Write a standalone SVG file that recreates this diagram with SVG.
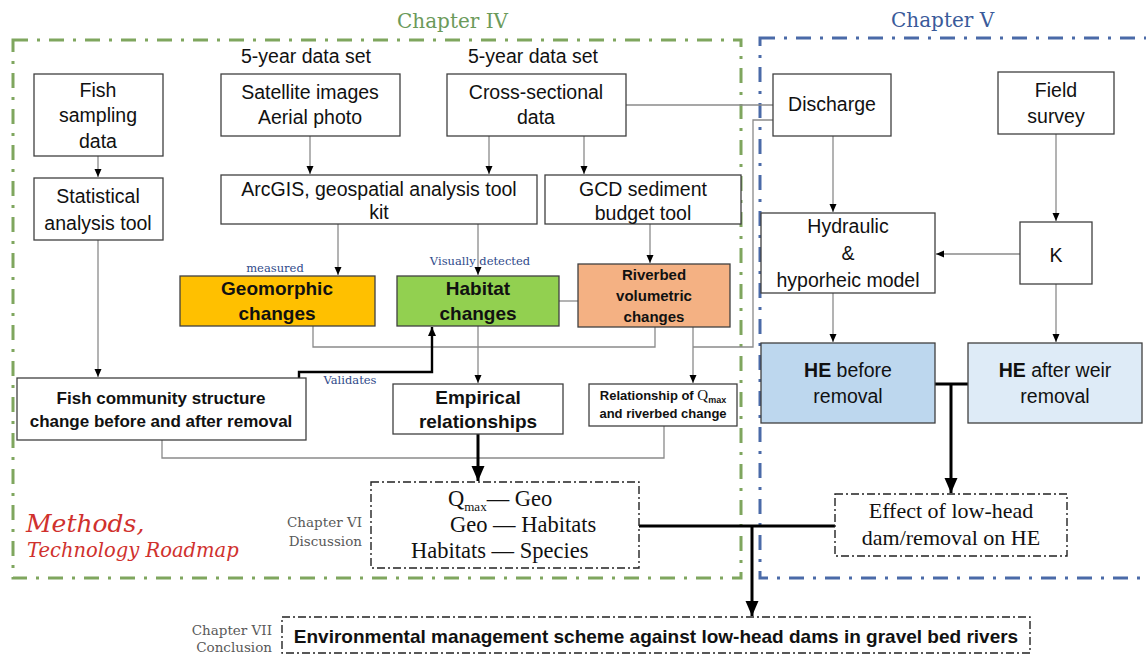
<svg xmlns="http://www.w3.org/2000/svg" width="1146" height="657" viewBox="0 0 1146 657">
<defs>
<marker id="arr" markerUnits="userSpaceOnUse" markerWidth="8" markerHeight="8" refX="8" refY="3.5" orient="auto"><path d="M0,0 L8,3.5 L0,7 z" fill="#000"/></marker>
<marker id="arrM" markerUnits="userSpaceOnUse" markerWidth="10" markerHeight="10" refX="9" refY="4" orient="auto"><path d="M0,0 L9,4 L0,8 z" fill="#000"/></marker>
<marker id="arrB" markerUnits="userSpaceOnUse" markerWidth="16" markerHeight="14" refX="15" refY="6.5" orient="auto"><path d="M0,0 L15,6.5 L0,13 z" fill="#000"/></marker>
<style>
.box{fill:#fff;stroke:#404040;stroke-width:1.3}
.t{font-family:"Liberation Sans",Arial,sans-serif;font-size:19.5px;fill:#111;text-anchor:middle}
.b{font-weight:bold}
.s19{font-size:19px}
.s17{font-size:17px}
.s15{font-size:15px}
.s13{font-size:13px}
.ser{font-family:"Liberation Serif","Times New Roman",serif;fill:#111}
.slab{font-family:"DejaVu Serif",serif}
.lbl{font-family:"DejaVu Serif",serif;font-size:11.5px;fill:#2F4A8A}
.chap{font-family:"DejaVu Serif",serif;font-size:13.5px;fill:#595959}
.ln{fill:none;stroke:#8a8a8a;stroke-width:1.3}
.thick{fill:none;stroke:#000;stroke-width:3}
.dd{fill:#fff;stroke:#222;stroke-width:1.4;stroke-dasharray:8 3 2 3}
</style>
</defs>

<!-- chapter frames -->
<g id="frames">
<rect x="13" y="40" width="728" height="538" fill="none" stroke="#7FA65E" stroke-width="3" stroke-dasharray="15 9 3 9"/>
<rect x="760" y="38" width="400" height="540" fill="none" stroke="#4A6AA8" stroke-width="3" stroke-dasharray="15 9 3 9"/>
<text x="397" y="28" class="slab" font-size="20" fill="#6B9A5A">Chapter IV</text>
<text x="891" y="27" class="slab" font-size="20" fill="#3A5A9A">Chapter V</text>
<text x="26" y="532" class="slab" font-size="25" font-style="italic" fill="#D0312D">Methods,</text>
<text x="27" y="557" class="slab" font-size="19.5" font-style="italic" fill="#D0312D">Technology Roadmap</text>
<text x="306" y="63" class="t">5-year data set</text>
<text x="533" y="63" class="t">5-year data set</text>
<text x="275" y="272" class="lbl" text-anchor="middle">measured</text>
<text x="480" y="265" class="lbl" text-anchor="middle">Visually detected</text>
<text x="350" y="384" class="lbl" text-anchor="middle">Validates</text>
<text x="362" y="527" class="chap" text-anchor="end">Chapter VI</text>
<text x="362" y="546" class="chap" text-anchor="end">Discussion</text>
<text x="272" y="635" class="chap" text-anchor="end">Chapter VII</text>
<text x="272" y="652" class="chap" text-anchor="end">Conclusion</text>
</g>

<!-- connectors -->
<g id="connectors">
<path class="ln" d="M98,156 V177" marker-end="url(#arr)"/>
<path class="ln" d="M98,240 V377" marker-end="url(#arr)"/>
<path class="ln" d="M310,136 V174" marker-end="url(#arr)"/>
<path class="ln" d="M489,136 V174" marker-end="url(#arr)"/>
<path class="ln" d="M584,136 V174" marker-end="url(#arr)"/>
<path class="ln" d="M626,105 H773"/>
<path class="ln" d="M773,120 H753 V347 H693"/>
<path class="ln" d="M693,327 V383" marker-end="url(#arr)"/>
<path class="ln" d="M338,224 V275" marker-end="url(#arr)"/>
<path class="ln" d="M478,224 V275" marker-end="url(#arr)"/>
<path class="ln" d="M650,224 V263" marker-end="url(#arr)"/>
<path class="ln" d="M559,301 H578"/>
<path class="ln" d="M313,326 V347 H655 V327"/>
<path class="ln" d="M478,326 V383" marker-end="url(#arr)"/>
<path class="ln" d="M162,440 V458 H664 V426"/>
<path d="M299,378 V372 H432 V327" fill="none" stroke="#000" stroke-width="2.4" marker-end="url(#arrM)"/>
<path class="thick" d="M478,434 V481" marker-end="url(#arrB)"/>
<path class="ln" d="M833,136 V212" marker-end="url(#arr)"/>
<path class="ln" d="M1056,134 V221" marker-end="url(#arr)"/>
<path class="ln" d="M1020,254 H936" marker-end="url(#arr)"/>
<path class="ln" d="M833,293 V342" marker-end="url(#arr)"/>
<path class="ln" d="M1056,284 V342" marker-end="url(#arr)"/>
<path class="thick" d="M935,384 H968"/>
<path class="thick" d="M951,384 V493" marker-end="url(#arrB)"/>
<path class="thick" d="M639,526 H835"/>
<path class="thick" d="M752,526 V616" marker-end="url(#arrB)"/>
</g>

<g id="fish-sampling">
<rect class="box" x="34" y="74" width="129" height="82"/>
<text class="t" x="98" y="97">Fish</text>
<text class="t" x="98" y="122">sampling</text>
<text class="t" x="98" y="148">data</text>
</g>
<g id="statistical">
<rect class="box" x="34" y="178" width="129" height="62"/>
<text class="t" x="98" y="203">Statistical</text>
<text class="t" x="98" y="230">analysis tool</text>
</g>
<g id="satellite">
<rect class="box" x="221" y="74" width="179" height="62"/>
<text class="t" x="310" y="99">Satellite images</text>
<text class="t" x="310" y="124">Aerial photo</text>
</g>
<g id="cross-sectional">
<rect class="box" x="447" y="74" width="179" height="62"/>
<text class="t" x="536" y="99">Cross-sectional</text>
<text class="t" x="536" y="124">data</text>
</g>
<g id="arcgis">
<rect class="box" x="221" y="175" width="316" height="49"/>
<text class="t" x="379" y="196">ArcGIS, geospatial analysis tool</text>
<text class="t" x="379" y="219">kit</text>
</g>
<g id="gcd">
<rect class="box" x="545" y="175" width="196" height="49"/>
<text class="t" x="643" y="196">GCD sediment</text>
<text class="t" x="643" y="220">budget tool</text>
</g>
<g id="geomorphic">
<rect x="180" y="276" width="195" height="50" fill="#FFC000" stroke="#404040" stroke-width="1.3"/>
<text class="t b s19" x="277" y="295">Geomorphic</text>
<text class="t b s19" x="277" y="320">changes</text>
</g>
<g id="habitat">
<rect x="397" y="276" width="162" height="50" fill="#92D050" stroke="#404040" stroke-width="1.3"/>
<text class="t b s19" x="478" y="295">Habitat</text>
<text class="t b s19" x="478" y="320">changes</text>
</g>
<g id="riverbed">
<rect x="578" y="264" width="152" height="63" fill="#F4B183" stroke="#404040" stroke-width="1.3"/>
<text class="t b s15" x="654" y="280">Riverbed</text>
<text class="t b s15" x="654" y="301">volumetric</text>
<text class="t b s15" x="654" y="322">changes</text>
</g>
<g id="fish-community">
<rect class="box" x="17" y="378" width="289" height="62"/>
<text class="t b s17" x="161" y="404">Fish community structure</text>
<text class="t b s17" x="161" y="427">change before and after removal</text>
</g>
<g id="empirical">
<rect class="box" x="393" y="384" width="170" height="50"/>
<text class="t b s19" x="478" y="404">Empirical</text>
<text class="t b s19" x="478" y="428">relationships</text>
</g>
<g id="relationship">
<rect class="box" x="589" y="384" width="148" height="42"/>
<text class="t b s13" x="663" y="400">Relationship of <tspan style="font-family:'Liberation Serif',serif;font-weight:normal;font-size:15px">Q</tspan><tspan style="font-size:9px" dy="3">max</tspan></text>
<text class="t b s13" x="663" y="418">and riverbed change</text>
</g>
<g id="discharge">
<rect class="box" x="773" y="74" width="118" height="62"/>
<text class="t" x="832" y="111">Discharge</text>
</g>
<g id="field-survey">
<rect class="box" x="998" y="72" width="116" height="62"/>
<text class="t" x="1056" y="97">Field</text>
<text class="t" x="1056" y="123">survey</text>
</g>
<g id="hydraulic">
<rect class="box" x="761" y="213" width="174" height="80"/>
<text class="t" x="848" y="233">Hydraulic</text>
<text class="t" x="848" y="260">&amp;</text>
<text class="t" x="848" y="287">hyporheic model</text>
</g>
<g id="k">
<rect class="box" x="1020" y="222" width="72" height="62"/>
<text class="t" x="1056" y="262">K</text>
</g>
<g id="he-before">
<rect x="761" y="343" width="174" height="80" fill="#BDD7EE" stroke="#404040" stroke-width="1.3"/>
<text class="t" x="848" y="377"><tspan font-weight="bold">HE</tspan> before</text>
<text class="t" x="848" y="403">removal</text>
</g>
<g id="he-after">
<rect x="968" y="343" width="174" height="80" fill="#DEEBF7" stroke="#404040" stroke-width="1.3"/>
<text class="t" x="1055" y="377"><tspan font-weight="bold">HE</tspan> after weir</text>
<text class="t" x="1055" y="403">removal</text>
</g>
<g id="discussion">
<rect class="dd" x="371" y="482" width="268" height="86"/>
<text class="ser" x="448" y="506" font-size="22.5">Q<tspan font-size="13" dy="5">max</tspan><tspan dy="-5">— Geo</tspan></text>
<text class="ser" x="450" y="532" font-size="22.5">Geo — Habitats</text>
<text class="ser" x="411" y="558" font-size="22.5">Habitats — Species</text>
</g>
<g id="effect">
<rect class="dd" x="835" y="494" width="232" height="62"/>
<text class="ser" x="951" y="518" font-size="22" text-anchor="middle">Effect of low-head</text>
<text class="ser" x="951" y="545" font-size="22" text-anchor="middle">dam/removal on HE</text>
</g>
<g id="environmental">
<rect class="dd" x="282" y="617" width="748" height="36"/>
<text class="t b s19" x="656" y="643">Environmental management scheme against low-head dams in gravel bed rivers</text>
</g>
</svg>
